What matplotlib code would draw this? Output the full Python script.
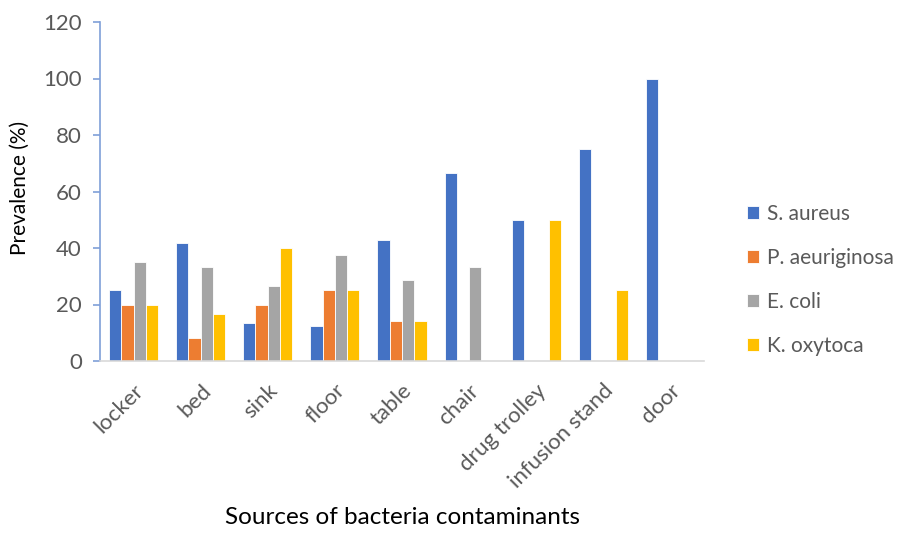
import matplotlib
matplotlib.use("Agg")
import matplotlib.pyplot as plt
import numpy as np

plt.rcParams['font.family'] = ['Lato', 'DejaVu Sans']

categories = ["locker", "bed", "sink", "floor", "table", "chair",
              "drug trolley", "infusion stand", "door"]
series_names = ["S. aureus", "P. aeuriginosa", "E. coli", "K. oxytoca"]
s_aureus = [25, 41.7, 13.3, 12.5, 42.9, 66.7, 50, 75, 100]
p_aeruginosa = [20, 8.3, 20, 25, 14.3, 0, 0, 0, 0]
e_coli = [35, 33.3, 26.7, 37.5, 28.6, 33.3, 0, 0, 0]
k_oxytoca = [20, 16.7, 40, 25, 14.3, 0, 50, 25, 0]
y_ticks = [0, 20, 40, 60, 80, 100, 120]

colors = ["#4472C4", "#ED7D31", "#A5A5A5", "#FFC000"]
series = [s_aureus, p_aeruginosa, e_coli, k_oxytoca]

fig = plt.figure(figsize=(9.04, 5.34), dpi=100)
ax = fig.add_axes([100 / 904, 1 - 361 / 534, 604 / 904, 339 / 534])

x = np.arange(len(categories))
w = 0.183
for i, (vals, c, name) in enumerate(zip(series, colors, series_names)):
    ax.bar(x + (i - 1.5) * w, vals, width=w, color=c, label=name,
           edgecolor="white", linewidth=0.6)

ax.set_xlim(-0.5, len(categories) - 0.5)
ax.set_ylim(0, 120)
ax.set_yticks(y_ticks)
ax.set_xticks(x)
ax.set_xticklabels(categories, rotation=45, ha="right", rotation_mode="anchor")

for s in ["top", "right"]:
    ax.spines[s].set_visible(False)
ax.spines["left"].set_color("#7F9FD8")
ax.spines["left"].set_linewidth(1.2)
ax.spines["bottom"].set_color("#D9D9D9")
ax.spines["bottom"].set_linewidth(1.2)
ax.tick_params(axis="y", colors="#7F9FD8", length=5, width=1.2,
               labelcolor="#595959", labelsize=16, pad=8)
ax.tick_params(axis="x", length=0, labelcolor="#595959", labelsize=16, pad=14)

fig.text(20 / 904, 1 - 188 / 534, "Prevalence (%)", fontsize=15,
         rotation=90, ha="center", va="center")
fig.text(403 / 904, 1 - 518 / 534, "Sources of bacteria contaminants",
         fontsize=17.5, ha="center", va="center")

leg = ax.legend(loc="center left", frameon=False, fontsize=15,
                labelcolor="#595959", borderpad=0, borderaxespad=0,
                handlelength=0.6, handleheight=0.6, handletextpad=0.35,
                labelspacing=1.15)
leg.set_bbox_to_anchor((747 / 904, 1 - 280 / 534), transform=fig.transFigure)

fig.savefig("out.png", dpi=100)
